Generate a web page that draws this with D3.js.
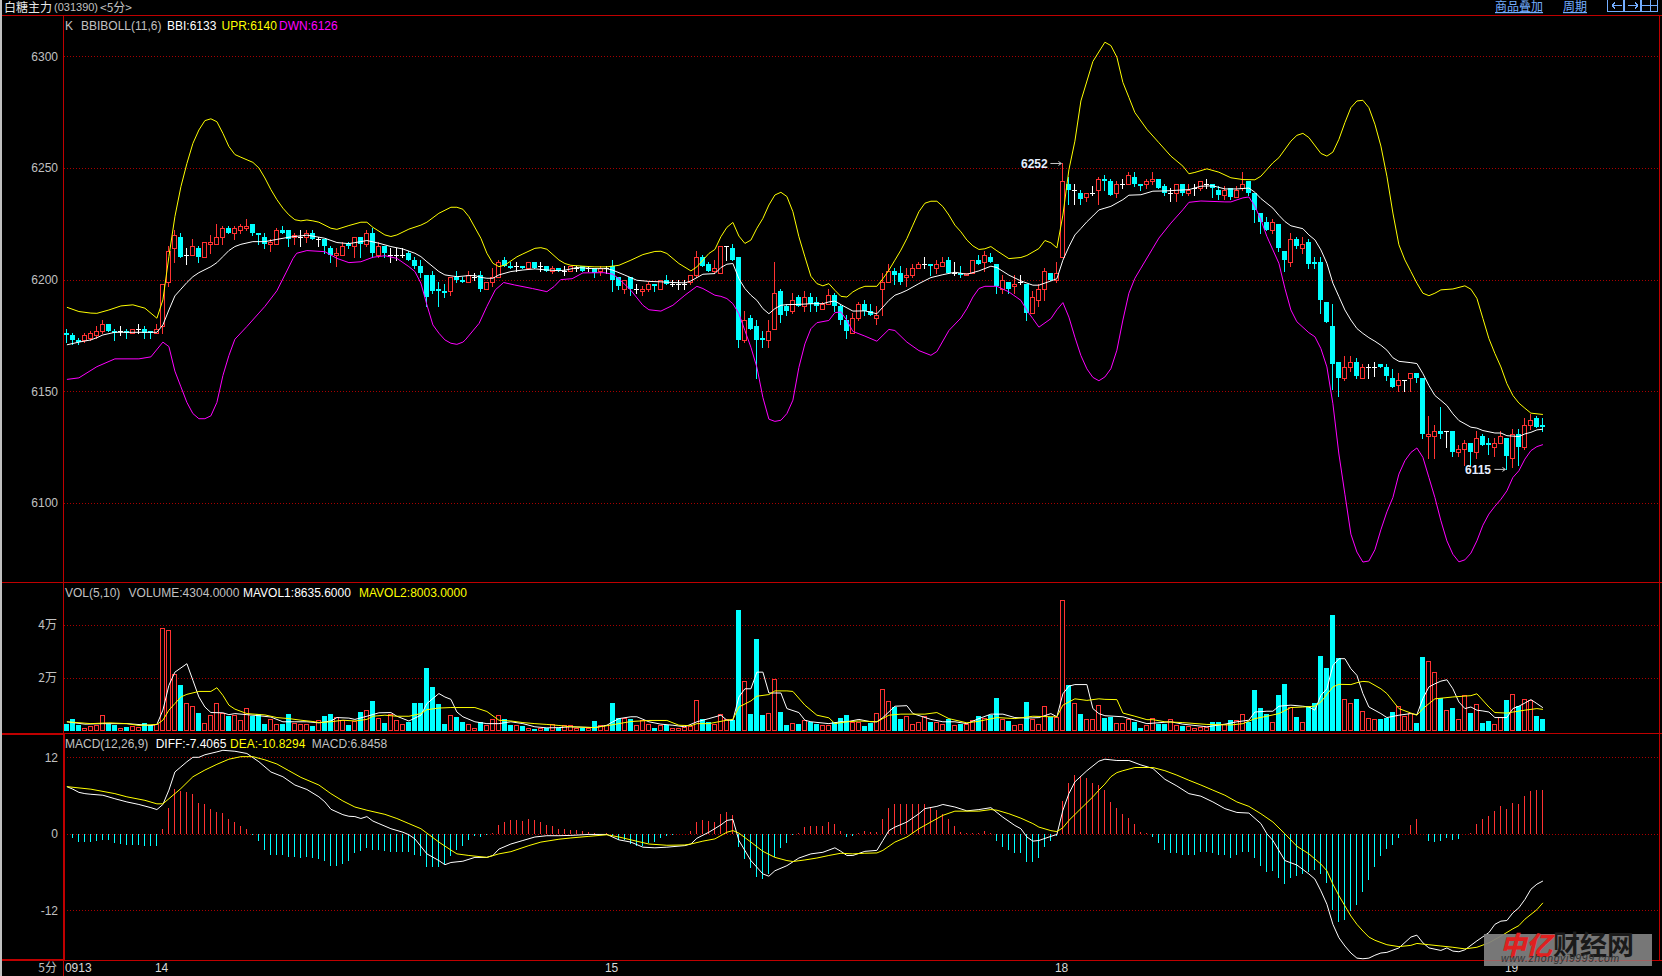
<!DOCTYPE html>
<html><head><meta charset="utf-8">
<script src="https://cdnjs.cloudflare.com/ajax/libs/d3/7.8.5/d3.min.js"></script>
<style>html,body{margin:0;padding:0;background:#000;overflow:hidden}svg{display:block}text{font-family:"Liberation Sans",sans-serif;font-size:12px}</style>
</head><body><svg id="c" width="1662" height="976"></svg>
<script>
const open=[6176,6175,6173,6173,6174,6175,6177,6180,6177,6177,
6177,6176,6178,6178,6177,6176,6179,6199,6214,6219,
6211,6211,6214,6210,6216,6216,6219,6223,6221,6222,
6223,6225,6221,6219,6216,6216,6222,6222,6219,6219,
6219,6221,6218,6218,6214,6211,6211,6216,6215,6219,
6216,6221,6211,6215,6211,6211,6211,6212,6209,6206,
6202,6202,6196,6195,6195,6201,6200,6199,6201,6202,
6196,6199,6201,6209,6206,6206,6206,6205,6208,6206,
6206,6204,6205,6204,6204,6205,6206,6205,6205,6204,
6205,6206,6201,6196,6201,6196,6195,6196,6198,6196,
6200,6198,6198,6198,6199,6202,6210,6207,6204,6203,
6215,6214,6210,6173,6183,6179,6174,6173,6178,6195,
6188,6186,6192,6188,6192,6190,6187,6189,6193,6188,
6182,6176,6183,6189,6186,6183,6196,6199,6204,6203,
6201,6202,6205,6207,6207,6205,6206,6209,6203,6203,
6202,6203,6209,6208,6210,6207,6196,6199,6197,6199,
6198,6185,6191,6196,6203,6200,6210,6243,6240,6239,
6237,6239,6240,6245,6244,6239,6243,6243,6246,6243,
6243,6244,6245,6242,6239,6239,6243,6239,6241,6241,
6243,6243,6240,6238,6241,6237,6241,6244,6239,6230,
6226,6222,6225,6213,6208,6218,6214,6217,6208,6208,
6190,6179,6163,6156,6161,6163,6156,6161,6161,6162,
6161,6156,6153,6155,6156,6158,6156,6130,6130,6132,
6132,6132,6123,6124,6127,6123,6130,6127,6125,6127,
6129,6120,6131,6125,6135,6138,6135];
const close=[6175,6173,6172,6175,6176,6177,6180,6177,6176,6177,
6176,6178,6178,6176,6176,6178,6198,6213,6220,6210,
6211,6215,6210,6217,6217,6219,6223,6221,6223,6224,
6224,6221,6220,6216,6217,6222,6221,6218,6220,6219,
6221,6218,6218,6215,6211,6212,6215,6215,6219,6216,
6221,6212,6215,6212,6211,6211,6211,6209,6206,6203,
6192,6195,6195,6194,6201,6200,6199,6202,6201,6196,
6199,6201,6208,6206,6205,6206,6205,6208,6205,6206,
6204,6205,6204,6204,6206,6205,6204,6205,6203,6205,
6205,6200,6197,6200,6196,6196,6196,6198,6197,6200,
6198,6198,6198,6198,6202,6210,6206,6204,6205,6215,
6215,6209,6173,6182,6178,6173,6173,6177,6194,6184,
6186,6191,6188,6192,6189,6188,6189,6193,6188,6182,
6177,6183,6189,6186,6184,6184,6199,6204,6202,6199,
6202,6205,6207,6207,6206,6207,6208,6203,6203,6202,
6203,6209,6207,6211,6208,6197,6200,6196,6198,6199,
6185,6192,6196,6204,6200,6203,6244,6240,6240,6236,
6239,6239,6245,6244,6238,6243,6243,6247,6243,6242,
6244,6245,6241,6239,6239,6243,6239,6240,6241,6244,
6243,6241,6238,6240,6237,6240,6243,6239,6231,6226,
6222,6226,6214,6209,6218,6215,6216,6207,6207,6191,
6181,6162,6156,6161,6163,6157,6161,6161,6161,6161,
6157,6152,6155,6155,6158,6156,6131,6131,6132,6131,
6132,6123,6124,6127,6123,6129,6126,6126,6127,6130,
6121,6131,6125,6135,6137,6134,6134];
const high=[6178,6176,6174,6176,6177,6179,6182,6180,6178,6179,
6178,6178,6180,6179,6177,6180,6198,6215,6222,6221,
6214,6218,6215,6217,6220,6225,6224,6224,6224,6225,
6227,6225,6221,6221,6218,6223,6224,6222,6221,6222,
6222,6222,6219,6218,6215,6214,6217,6217,6219,6219,
6222,6223,6217,6215,6214,6214,6214,6213,6210,6209,
6202,6204,6199,6198,6201,6204,6201,6204,6203,6204,
6199,6205,6209,6210,6208,6208,6206,6208,6208,6208,
6206,6206,6205,6206,6206,6206,6206,6206,6205,6206,
6206,6209,6201,6200,6201,6198,6197,6199,6198,6200,
6202,6200,6200,6200,6202,6213,6211,6208,6209,6215,
6215,6216,6210,6186,6184,6182,6177,6182,6208,6196,
6189,6194,6193,6195,6194,6192,6190,6196,6194,6189,
6184,6185,6190,6191,6189,6188,6203,6207,6205,6206,
6205,6207,6208,6210,6207,6209,6210,6210,6208,6206,
6203,6209,6211,6213,6212,6207,6202,6199,6202,6202,
6198,6195,6198,6205,6203,6208,6252,6246,6243,6240,
6239,6242,6246,6247,6245,6244,6245,6248,6248,6243,
6245,6248,6245,6243,6241,6243,6243,6243,6243,6244,
6245,6243,6242,6242,6241,6242,6248,6244,6239,6230,
6228,6227,6225,6213,6221,6219,6219,6218,6210,6210,
6190,6189,6163,6166,6166,6165,6162,6162,6163,6162,
6162,6160,6158,6155,6158,6158,6156,6139,6135,6143,
6132,6132,6126,6128,6127,6132,6131,6129,6129,6132,
6129,6133,6133,6138,6140,6139,6138];
const low=[6172,6171,6171,6172,6173,6174,6176,6177,6173,6175,
6174,6176,6176,6174,6174,6176,6176,6197,6208,6210,
6207,6211,6208,6210,6212,6216,6216,6221,6218,6221,
6222,6220,6216,6214,6213,6216,6221,6215,6216,6215,
6217,6218,6215,6212,6208,6206,6211,6214,6210,6210,
6215,6210,6210,6210,6208,6209,6210,6209,6205,6201,
6188,6194,6188,6192,6193,6199,6199,6199,6200,6195,
6196,6197,6201,6206,6205,6204,6205,6205,6205,6204,
6204,6203,6204,6202,6204,6204,6204,6204,6201,6202,
6203,6195,6196,6194,6193,6194,6193,6195,6195,6196,
6198,6197,6196,6196,6198,6201,6206,6204,6203,6203,
6209,6209,6170,6172,6178,6156,6170,6170,6178,6181,
6184,6185,6188,6186,6186,6186,6187,6189,6186,6180,
6174,6176,6182,6184,6184,6180,6184,6199,6198,6198,
6197,6201,6205,6205,6202,6203,6206,6203,6202,6201,
6202,6203,6207,6204,6208,6194,6194,6194,6194,6198,
6182,6185,6188,6191,6200,6199,6210,6234,6234,6234,
6235,6238,6234,6240,6238,6237,6241,6243,6242,6240,
6241,6243,6241,6238,6235,6235,6238,6238,6238,6240,
6241,6237,6236,6236,6236,6237,6240,6238,6226,6221,
6222,6221,6213,6204,6206,6214,6212,6205,6205,6185,
6181,6151,6148,6155,6159,6156,6156,6156,6157,6161,
6155,6152,6150,6150,6150,6154,6129,6120,6120,6129,
6125,6121,6121,6117,6117,6120,6126,6122,6121,6127,
6115,6116,6117,6124,6133,6134,6132];
const volume=[2.4,4.2,2,1.1,1.6,2,6,2.6,2.1,1.1,
1.3,1.8,1.4,3,2,2.6,38.9,38.1,21.4,17.1,
10.6,9.1,6.5,3,5.8,10.6,6.7,5.5,5.8,3.8,
8.7,5.5,6.4,2.4,4.2,2.4,2.5,6.4,3,2.6,
2.3,1.6,3.8,5.4,6.4,5.3,3.9,2,3.6,6.9,
7.9,11,4.9,3,6.4,3.8,2.4,3.1,10.3,10.3,
23.5,16.4,9.9,2.6,5.7,5,3.1,2.6,1.1,3.4,
2,4.2,5.7,4.2,2,1.9,1.6,.9,.5,.8,
.8,2.3,1.1,1.9,1.9,1.1,1,.8,3.5,1.9,
1.9,10.3,4.7,4.9,4.2,2,3.8,2.6,.9,1.9,
2,1,1.1,1.4,1.6,11.7,4.5,3.4,2.6,6.4,
4.5,3.9,45.8,18.9,6.2,34.5,5.8,6.8,19.6,6.9,
2,3,2.4,3.8,3.4,2.4,2,2,3.4,4.7,
5.8,3.4,3.4,1.6,2.9,6.8,15.8,11.3,8.9,4.3,
5.4,2.4,3.4,5.4,3.4,3.1,2.4,4.2,1.9,2.6,
2.4,3.8,5.4,4.9,5.8,12.2,4.3,3.6,1.9,2.4,
10.7,4.5,2.6,9.1,5.2,5.2,49.4,17.1,10.6,6.2,
4.2,4.2,9.8,4.8,5,3,3,4.3,3.3,.9,
1.9,4.8,2.6,2.6,4.5,1.9,1.6,1.6,.9,1.4,
1.3,3.1,3.1,2.6,3.9,3.8,6.4,3.3,15.2,8.4,
6.2,3.1,13.3,17.5,8.9,5,3.4,9.4,10.3,28.4,
23.5,43.9,27.3,12,10.3,11.8,7.2,4.9,4.2,4.4,
4.9,6.9,9.1,5.4,6.7,2.8,28,26.5,22.3,12.5,
7.7,8.4,4.5,13.6,6.5,10.2,2.8,3.5,2.3,5,
11.4,14,9.2,12,11.4,5.4,4.304];
const macdBars=[-.05,-.7,-1.3,-1.3,-1.3,-1.2,-.9,-1.05,-1.4,-1.6,
-1.7,-1.75,-1.75,-1.85,-1.95,-1.85,.7,4.1,6.95,6.7,
6.5,6.2,4.9,4.6,3.95,3.4,3.2,2.4,1.8,1.3,
.7,-.15,-1.15,-2.6,-3.3,-3.3,-3.3,-3.7,-3.7,-3.85,
-3.7,-3.85,-3.95,-4.3,-5,-5.1,-4.7,-4.2,-3,-2.75,
-2.2,-2.5,-2.5,-2.75,-2.9,-2.9,-2.9,-2.9,-3.25,-3.5,
-5.2,-5.25,-5.25,-4.75,-3.5,-2.6,-1.95,-1.05,-.35,-.5,
-.15,.15,1.4,1.9,2.1,2.2,2.05,2.35,2.1,1.8,
1.4,1.15,.8,.7,.6,.6,.45,.3,.1,0,
.15,-.35,-.95,-1.05,-1.6,-1.85,-1.9,-1.45,-1.35,-.7,
-.35,-.2,-.1,-.05,.5,1.9,2.1,2,1.9,3.05,
3.45,2.9,-2,-4,-5.4,-6.75,-7.15,-6.3,-3.7,-2.3,
-1.45,-.2,.1,1,1.15,1.15,1.3,1.9,1.6,.45,
-.5,-.3,.15,.45,.35,.35,2.25,4,4.6,4.6,
4.6,4.7,4.7,4.6,4.2,3.7,3.15,2.25,1.3,.35,
.1,.1,.15,.45,.15,-1.2,-2,-2.6,-3,-3.05,
-4.35,-4.35,-3.8,-2,-1.2,-.35,5.1,7.9,9.15,9,
8.7,7.9,7.6,6.85,4.95,4,3.05,2.5,1.5,.35,
.05,-.5,-1.5,-2.5,-3.05,-3.05,-3.35,-3.4,-3.4,-2.9,
-2.8,-3.05,-3.4,-3.4,-3.75,-3.4,-2.8,-2.8,-3.75,-5,
-5.95,-5.8,-6.95,-7.95,-7,-6.6,-6.25,-5.95,-5.6,-6.3,
-7.65,-12,-13.8,-13.5,-12.1,-11.15,-9.2,-7.2,-5.25,-3.5,
-2.4,-1.8,-.7,-.05,1.4,2.25,0,-1.15,-1.3,-1.15,
-.7,-.95,-.85,-.05,.15,1.6,2.25,2.85,3.5,4.3,
3.85,4.8,4.65,5.9,6.7,6.85,6.8458];
// indicator lines, [bar index, value]
const bbi=[[0,6170.8],[2,6172],[4,6173],[5,6174],[6,6175.2],[8,6176.4],[11,6176.4],[15,6176.4],[16,6179.7],[17,6186.4],[18,6192.7],[19,6195.7],[20,6198.7],[21,6201.3],[22,6203.1],[24,6205.8],[25,6207.6],[26,6210.3],[27,6213],[28,6214.8],[29,6215.8],[31,6217],[33,6217],[35,6218],[37,6219],[40,6219.9],[42,6219],[43,6218.5],[45,6216.6],[47,6216.1],[49,6217],[50,6217.5],[52,6216.3],[54,6214.8],[56,6213.7],[58,6211.8],[59,6210.3],[60,6208],[62,6203.6],[63,6202.1],[65,6201.3],[67,6201.8],[68,6201.8],[69,6201],[70,6200.6],[71,6200.6],[72,6202.1],[74,6203.6],[76,6204.3],[78,6204.8],[80,6204.3],[82,6204],[83,6204.2],[85,6205.4],[88,6204.9],[90,6204.9],[91,6204.2],[93,6202],[95,6199.7],[97,6199.2],[99,6199],[101,6198.7],[103,6198.5],[104,6199.4],[106,6202.4],[108,6202.7],[109,6205.4],[110,6206.9],[111,6207.2],[112,6200.4],[113,6196],[114,6193],[115,6190.7],[116,6187],[117,6184.7],[118,6187],[119,6188.5],[120,6188.8],[122,6188.9],[124,6189.2],[126,6189.2],[127,6190],[128,6190.4],[129,6188.8],[131,6185.9],[133,6186],[135,6184.7],[136,6187.7],[137,6190.7],[138,6193],[139,6194],[140,6195.2],[142,6198.2],[144,6200.9],[146,6202.2],[148,6203.3],[150,6202.4],[152,6203.9],[154,6206],[155,6205.4],[157,6202],[159,6199.4],[161,6197.5],[162,6197.5],[164,6199.4],[165,6200.4],[166,6208.7],[167,6214.7],[168,6220],[169,6222.9],[170,6225.9],[171,6228.5],[172,6231.2],[173,6232],[174,6232.8],[176,6235.8],[177,6237.8],[179,6238],[181,6239.6],[183,6239.7],[185,6240],[187,6240.3],[189,6241.8],[191,6242],[193,6240.6],[195,6240.6],[197,6241],[198,6239.1],[199,6236.3],[201,6232],[202,6228.8],[203,6226],[204,6224.1],[206,6222.8],[207,6220],[208,6217.8],[209,6213.3],[210,6207.3],[211,6198.4],[212,6192.4],[213,6186.4],[214,6181.9],[215,6178.1],[216,6175.9],[217,6174],[218,6172.4],[219,6170.6],[220,6168.4],[221,6165],[222,6163.4],[224,6162.8],[225,6162.4],[226,6157.9],[227,6152.6],[228,6148.1],[229,6145.9],[230,6143.6],[231,6139.9],[232,6136.9],[234,6133.9],[235,6133.5],[236,6132.4],[238,6131.3],[239,6131.3],[240,6130.1],[242,6129.7],[243,6130.9],[244,6131.6],[245,6132.7],[246,6133]];
const upr=[[0,6187.6],[2,6185.7],[4,6185],[5,6184.9],[7,6186.4],[9,6188.2],[11,6188.7],[13,6187.2],[15,6182.7],[16,6190.9],[17,6210.3],[18,6228.2],[19,6241.6],[20,6252],[21,6261],[22,6267],[23,6271.2],[24,6272],[25,6270.7],[26,6265.5],[27,6259.6],[28,6256],[29,6254.8],[31,6252.5],[32,6250],[33,6245.5],[34,6240.3],[35,6235.8],[36,6232],[37,6229],[38,6226.8],[39,6226.3],[40,6226.7],[41,6226.3],[42,6225.7],[44,6223],[45,6222.5],[47,6224.2],[49,6225.7],[50,6225.7],[51,6223.4],[53,6220],[54,6219.3],[55,6220],[57,6222.6],[59,6224.4],[60,6225.7],[62,6229.7],[64,6232.4],[65,6232.4],[66,6231.5],[67,6228.2],[69,6218.5],[70,6211.8],[71,6207.3],[72,6205.8],[73,6206.5],[75,6210.2],[76,6211.5],[78,6214],[79,6214.3],[80,6213.6],[82,6208.8],[83,6207.2],[84,6206.4],[86,6206],[88,6205.7],[90,6205.7],[92,6206.4],[94,6208.7],[96,6211.2],[98,6212.6],[99,6212.7],[100,6211.7],[102,6207.2],[104,6203.9],[105,6205.7],[107,6211.7],[108,6213.5],[109,6219.2],[110,6223.4],[111,6225.6],[112,6219.5],[113,6216.2],[114,6217.7],[115,6223],[116,6227.4],[117,6233.4],[118,6237.9],[119,6239.1],[120,6237.2],[121,6230.4],[122,6219.2],[123,6210.2],[124,6201.5],[125,6198.2],[126,6197.2],[127,6198.2],[128,6195.2],[129,6192.5],[130,6192.2],[131,6194.5],[132,6196],[133,6197],[135,6197],[136,6200.4],[137,6204.2],[138,6208.7],[139,6213.2],[140,6218.4],[141,6224.4],[142,6230.4],[143,6234.2],[144,6235.1],[145,6235.1],[146,6232.7],[147,6228.9],[148,6224.4],[149,6221.4],[150,6217.7],[151,6215.1],[152,6213.5],[153,6213.8],[154,6214.8],[155,6212.9],[157,6209.4],[159,6209.9],[160,6210.8],[162,6213.9],[163,6217.5],[164,6216.5],[165,6214.2],[166,6228.9],[167,6249.2],[168,6262],[169,6280],[171,6297.7],[173,6306.3],[174,6304.8],[175,6299.6],[176,6288.3],[177,6281.6],[178,6274.8],[180,6267.3],[182,6261.3],[184,6255.3],[186,6250.8],[187,6247.4],[188,6248],[190,6249.6],[192,6248.1],[194,6245.6],[196,6244.8],[198,6244.7],[199,6246.3],[201,6252.3],[202,6254.6],[204,6262],[205,6264.6],[206,6265.5],[207,6263.6],[209,6256.5],[210,6255.3],[211,6257.1],[212,6262.8],[213,6270.3],[214,6277],[215,6280],[216,6280.3],[217,6277],[218,6269.6],[219,6259.8],[220,6246.3],[221,6229.8],[222,6215.6],[223,6208.8],[224,6203.6],[225,6198.4],[226,6193.9],[227,6192.8],[228,6193.9],[229,6195.4],[231,6195.8],[233,6197.2],[234,6195.7],[235,6191.6],[236,6182.6],[237,6173.6],[238,6166.9],[239,6160.9],[240,6153.4],[241,6148.1],[242,6144.7],[243,6142.4],[244,6140.2],[246,6139.6]];
const dwn=[[0,6155.3],[2,6156],[5,6161],[8,6164.5],[12,6164.5],[14,6165.4],[16,6172],[17,6170],[18,6159],[19,6152],[20,6145],[21,6140],[22,6137.7],[23,6137.7],[24,6139],[25,6145],[26,6157],[27,6166],[28,6173.3],[30,6179],[32,6185],[33,6188],[35,6195],[36.5,6203],[37.7,6209.5],[38.3,6211.8],[40,6213],[43,6212.5],[45,6209.5],[47,6207.6],[49,6208],[51,6210],[53,6210.7],[55,6209.5],[57,6205.8],[58,6203.6],[59,6198.4],[60,6188.7],[61,6179.7],[62,6176],[63,6173],[64,6171.5],[65,6171],[66,6172],[66.4,6173],[68.7,6180.4],[70,6188],[71.4,6195.4],[72.8,6198.7],[74.6,6197.6],[77.6,6196],[80,6194.6],[81.2,6196.9],[82.3,6200],[84.2,6200.4],[86,6203],[89.5,6203.1],[91,6202.4],[92,6200.4],[94,6195.2],[96,6188.5],[97,6186.5],[99,6185.9],[101,6188.5],[103,6193],[105,6197],[106,6196],[108,6193],[109,6192.5],[110,6191.5],[111,6189.2],[112,6184.7],[113,6177.2],[114,6169.7],[115,6160.7],[116,6147.2],[117,6137.5],[118,6136.5],[119,6137],[120,6140],[121,6146],[122,6160.7],[123,6171.2],[124,6178],[125,6180.7],[127,6181.7],[128,6185.2],[129,6185.5],[130,6181.7],[131,6176.8],[133,6174.7],[135,6172.4],[137,6177.7],[138,6177.2],[140,6172],[142,6168.2],[144,6166.1],[145,6167.8],[147,6177.2],[149,6182.8],[150,6187],[151,6192.2],[152,6196],[153,6197],[155,6197],[157,6194.5],[159,6190.7],[160,6186.2],[161,6182.5],[162,6178.7],[164,6182.5],[165,6186.5],[166,6189.7],[167,6183.2],[168,6174.2],[169,6166],[170,6160],[171,6156.2],[172,6154.7],[173,6156.4],[174,6160.1],[175,6168.4],[176,6181.9],[177,6193.9],[178,6200.6],[179,6205.1],[181,6214.1],[182,6218.6],[184,6225.3],[186,6231.3],[187,6234.6],[189,6235.2],[193,6234.8],[194,6234.8],[196,6236.6],[197,6237],[198,6232.8],[199,6226.8],[200,6219.3],[201,6213.3],[202,6207.3],[203,6196.1],[204,6186.4],[205,6181.1],[207,6176.2],[208,6174.4],[209,6169.1],[210,6160.9],[211,6144.4],[212,6121.9],[213,6103.9],[214,6086],[215,6078],[216,6073.5],[217,6074],[218,6079],[219,6088],[220,6096],[221,6102.4],[222,6112.9],[223,6118.9],[224,6122.6],[225,6124.6],[226,6120.4],[227,6111.4],[228,6102.4],[229,6092],[230,6083],[231,6077],[232,6073.6],[233,6074.5],[234,6077.5],[235,6083],[236,6090],[237,6095],[238,6098.5],[239,6101.6],[240,6105.4],[241,6111.4],[242,6114.4],[243,6119.6],[244,6123.4],[245,6125.2],[246,6126.1]];
const mavol1=[[0,3.3],[3,2.4],[6,2.6],[10,2.6],[14,1.9],[15,2.3],[16,7.7],[17,17.1],[18,22.1],[20,25.3],[21,19],[22,12.7],[23,8.9],[24,6.8],[26,6.7],[27,6],[28,6.4],[30,6],[32,5.6],[34,5.1],[36,3.3],[38,3.3],[40,3.3],[42,2.9],[44,3.6],[45,4.9],[47,4.7],[48,4.2],[50,5.4],[52,6.7],[54,6.8],[55,5.4],[57,3.6],[59,5.8],[60,10.2],[62,14],[63,12.7],[64,11.8],[65,7],[66,5.2],[68,3.3],[70,2.6],[72,2.6],[74,3.3],[76,2.6],[78,1.4],[80,1],[82,1.1],[84,1.4],[88,1.1],[90,2],[91,3.3],[92,4.5],[94,5.2],[95,5.2],[97,3.3],[99,2.4],[101,2],[103,1.4],[105,3.3],[107,4.5],[109,5.8],[110,3.9],[111,3.9],[112,12.7],[113,15.8],[114,15.8],[115,22.1],[116,22.1],[117,14.2],[118,14.2],[119,14.2],[120,8.3],[122,6.8],[123,3.9],[124,3.3],[127,2.6],[129,3.3],[130,3.3],[132,4.2],[134,3.3],[135,3.3],[136,4.9],[138,9.2],[140,9.4],[141,6.4],[144,4.2],[146,3.3],[148,3.3],[150,2.6],[152,4.5],[154,6.2],[156,6.2],[158,4.9],[160,4.7],[162,4.9],[164,6.4],[165,5.2],[166,13.9],[167,16.8],[168,17.4],[170,17.4],[171,8.3],[172,6.4],[173,5.6],[176,5.2],[178,3.9],[180,2.6],[184,3.3],[186,2.4],[190,1.4],[193,2.4],[195,3.3],[197,3.9],[198,7],[200,7.3],[201,7.3],[202,9.2],[204,9.6],[206,9.2],[207,8.9],[208,7.7],[209,13.3],[210,15.8],[211,24.6],[212,27.2],[213,27.2],[214,23.4],[215,20.9],[216,14],[217,8.9],[219,6.4],[220,4.9],[222,5.8],[224,6.4],[225,6],[226,12.1],[227,16.5],[228,17.7],[229,18.7],[230,19.2],[231,15.8],[232,10.8],[233,8.3],[234,8.9],[235,7.7],[236,7.4],[237,7],[238,4.9],[240,4.9],[241,8.3],[242,9.2],[243,10.4],[244,11.7],[245,10.2],[246,8.6356]];
const mavol2=[[0,3.3],[4,2.6],[7,2.9],[10,2.6],[12,1.9],[15,2.3],[16,3.9],[17,7.7],[18,10.2],[19,12.7],[20,13.7],[22,14.8],[24,14.8],[25,16.2],[26,13.3],[27,9.6],[28,8.1],[30,6.4],[33,5.9],[35,4.9],[37,4.5],[39,3.9],[41,3.4],[42,3],[44,3.3],[46,3.9],[48,3.6],[50,4.2],[51,5.4],[53,5.8],[55,5.4],[57,5.4],[59,6.4],[60,7.9],[62,8.5],[64,8.7],[68,8.7],[70,7.2],[72,3.9],[74,3.6],[76,3],[78,2.6],[80,2.3],[82,1.9],[84,1.4],[88,1.1],[90,1.8],[92,2.6],[94,3.4],[97,3.8],[100,3.8],[102,2],[104,1.8],[105,2.6],[107,2.6],[110,3.9],[111,4.2],[112,8.9],[114,11.2],[115,13],[117,13.6],[118,15],[120,15],[121,14.8],[123,9.6],[125,5.8],[127,4.8],[128,2.6],[130,3.3],[132,3.6],[135,3.3],[137,5.8],[139,6.2],[143,6.2],[145,6.8],[147,4.5],[150,2.9],[152,3.5],[155,4.9],[158,4.5],[161,5.4],[164,5.2],[165,5.2],[166,9.6],[168,12],[170,11.4],[172,12],[173,11.8],[175,11.7],[176,6.6],[178,5.4],[180,4.1],[181,4.1],[183,3.3],[186,3],[190,2.3],[194,2.1],[196,2.6],[198,4.5],[200,5.4],[202,6.4],[204,8.7],[206,8.9],[208,9.2],[209,10.8],[211,16.5],[212,17.5],[214,17.4],[215,18.1],[216,18.6],[217,18.4],[219,15.8],[220,14],[222,8.3],[224,6.6],[225,5.8],[226,8.3],[228,12],[231,12.7],[234,13.2],[235,13.9],[237,8.9],[238,6.8],[240,6.6],[241,7],[243,7.7],[245,8.3],[246,8.003]];
const diff=[[0,7.4],[1,7],[2,6.5],[3,6.3],[4,6.2],[6,6.05],[8,5.5],[10,5],[12,4.6],[14,4.1],[15,3.8],[16,4.6],[17,6.85],[18,9.7],[19,10.5],[20,11.3],[21,12],[22,12],[23,12.4],[25,12.85],[26,13.1],[28,12.95],[30,12.6],[32,11.3],[34,9.7],[36,8.95],[38,7.65],[40,6.95],[42,5.8],[43,5],[44,3.85],[46,3],[47,2.75],[48,2.7],[49,2.4],[50,2.7],[51,2],[52,1.6],[54,.8],[56,.25],[57,-.15],[58,-.8],[60,-3.15],[62,-4.2],[63,-4.85],[64,-4.5],[66,-4.3],[68,-3.7],[70,-3.7],[71,-3.4],[72,-2.4],[74,-1.6],[76,-1.05],[78,-.5],[80,-.3],[82,-.3],[84,-.25],[87,-.1],[90,-.1],[92,-.95],[94,-1.3],[96,-2.1],[98,-2.2],[100,-2.1],[103,-1.85],[104,-1.6],[105,-.7],[107,.25],[109,1.4],[110,2.1],[111,2.25],[112,-1.05],[114,-4.2],[116,-6.3],[117,-6.65],[118,-5.8],[120,-5],[122,-3.8],[124,-3.15],[126,-2.9],[128,-2.2],[129,-2.75],[130,-3.4],[131,-3.4],[133,-2.75],[135,-2.6],[136,-1.05],[137,.5],[138,1.05],[140,1.85],[142,3.15],[143,3.95],[145,4.3],[146,4.6],[148,4.2],[150,3.6],[152,3.8],[154,4.1],[156,2.6],[158,1.3],[159,.8],[160,-.5],[161,-1.15],[162,-1.05],[164,-.4],[165,-.1],[166,3.7],[167,6.3],[168,8.15],[170,9.9],[172,11.4],[173,11.7],[175,11.5],[177,11.5],[179,10.8],[181,10.25],[183,8.55],[185,7.5],[187,6.3],[189,5.9],[191,5],[193,3.95],[195,3.35],[197,3.25],[199,1.6],[200,0],[201,-1.05],[203,-4.2],[205,-4.9],[207,-6.3],[208,-7.1],[209,-8.95],[210,-11.05],[211,-14.2],[212,-16.3],[213,-17.6],[214,-18.7],[215,-19.5],[216,-19.6],[217,-19.5],[218,-19.05],[219,-18.7],[220,-18.6],[222,-17.9],[224,-16.2],[225,-15.9],[226,-17.1],[227,-17.9],[229,-18.3],[230,-17.9],[231,-18.4],[232,-18.5],[233,-18.2],[235,-16.8],[237,-15.5],[238,-14.2],[239,-13.7],[240,-13.6],[241,-12.4],[242,-11.6],[243,-10.3],[244,-8.7],[245,-7.9],[246,-7.4065]];
const dea=[[0,7.4],[4,7],[8,6.3],[10,5.8],[13,5.25],[15,4.7],[16,4.7],[17,5.5],[19,7.1],[21,8.95],[23,10],[25,10.9],[27,11.7],[29,12.1],[31,12.1],[33,11.6],[35,10.95],[37,9.9],[39,8.85],[42,7.65],[44,6.3],[46,5.15],[48,4.2],[50,3.7],[53,3.05],[55,2.4],[57,1.6],[59,.8],[60,.1],[62,-1.3],[64,-2.55],[65,-3.15],[67,-3.4],[70,-3.7],[72,-3.15],[74,-2.8],[77,-1.85],[79,-1.3],[82,-.85],[84,-.65],[87,-.4],[90,-.15],[92,-.5],[94,-.95],[97,-1.6],[100,-1.8],[103,-1.75],[104,-1.6],[106,-1.15],[108,-.8],[110,.25],[111,.5],[112,.1],[114,-1.3],[116,-2.75],[118,-3.7],[120,-4.2],[121,-4.35],[123,-4.1],[125,-3.8],[127,-3.4],[129,-3.05],[131,-3.15],[133,-3.05],[135,-3],[136,-2.6],[138,-1.3],[140,-.5],[142,.8],[144,1.85],[146,2.9],[148,3.55],[152,3.55],[154,3.8],[155,3.7],[157,3.15],[159,2.45],[161,1.6],[162,1.05],[164,.5],[165,.35],[166,.95],[167,2.1],[169,3.95],[171,5.8],[172,6.85],[173,7.8],[174,8.95],[175,9.6],[176,9.9],[178,10.4],[181,10.4],[183,9.9],[185,9.2],[187,8.4],[189,7.65],[191,6.85],[193,6.05],[195,5],[197,4.3],[199,3.15],[201,1.85],[203,0],[205,-1.95],[207,-3.15],[209,-4.75],[210,-5.8],[211,-7.9],[212,-9.7],[213,-11.3],[214,-12.9],[215,-14.2],[216,-15.25],[217,-16.2],[218,-16.7],[220,-17.4],[222,-17.7],[224,-17.5],[225,-17.2],[227,-17.4],[229,-17.6],[231,-17.8],[233,-18.05],[235,-17.8],[237,-17.1],[239,-16.05],[241,-14.9],[242,-14.4],[243,-13.4],[245,-11.9],[246,-10.8294]];
const priceTicks=[6300,6250,6200,6150,6100];
const volTicks=[40,20];
const volTickLabels=["4万","2万"];
const macdTicks=[12,0,-12];
const dateTicks=[[0,"0913"],[15,"14"],[90,"15"],[165,"18"],[240,"19"]];

const RED="#ff3232",CYAN="#00ffff",LINE="#bf0000",GRID="#a80000",GRAY="#c0c0c0",YEL="#ffff00",MAG="#ff00ff";
const svg=d3.select("#c");
const x=d3.scaleLinear().domain([0,246]).range([66.4,1542.4]);
const yP=d3.scaleLinear().domain([6100,6300]).range([502.9,56.3]);
const yV=d3.scaleLinear().domain([0,40]).range([730.5,624.9]);
const yM=d3.scaleLinear().domain([-12,12]).range([910.3,757.3]);
const idx=d3.range(open.length);
const snap=v=>Math.round(v)+.5;

svg.append("rect").attr("width",1662).attr("height",976).attr("fill","#000");
svg.append("rect").attr("width",2).attr("height",976).attr("fill",GRAY);

// grid
const grid=svg.append("g").attr("stroke",GRID).attr("stroke-dasharray","1 2").attr("shape-rendering","crispEdges");
const hline=(y)=>grid.append("line").attr("x1",64).attr("x2",1658).attr("y1",snap(y)).attr("y2",snap(y));
priceTicks.forEach(t=>hline(yP(t)));
volTicks.forEach(t=>hline(yV(t)));
macdTicks.forEach(t=>hline(yM(t)));

// frame
const frame=svg.append("g").attr("stroke",LINE).attr("shape-rendering","crispEdges");
[[2,1662,15.5,15.5,1],[2,1662,582.5,582.5,1],[2,64,733.5,733.5,2],[64,1662,733.5,733.5,1],[2,64,960,960,2],[64,1662,960.5,960.5,1],[63.5,63.5,15,976,1],[63.5,63.5,733,960,2],[1659.5,1659.5,15,961,1]]
 .forEach(l=>frame.append("line").attr("x1",l[0]).attr("x2",l[1]).attr("y1",l[2]).attr("y2",l[3]).attr("stroke-width",l[4]));

// candles
const isUp=i=>close[i]>open[i], isDoji=i=>close[i]===open[i];
const candle=svg.append("g").attr("shape-rendering","crispEdges");
idx.forEach(i=>{
  const cx=Math.round(x(i)),col=isDoji(i)?"#fff":isUp(i)?RED:CYAN;
  candle.append("line").attr("x1",cx+.5).attr("x2",cx+.5).attr("y1",Math.round(yP(high[i]))).attr("y2",Math.round(yP(low[i]))+1).attr("stroke",col);
  const t=Math.round(yP(Math.max(open[i],close[i]))),b=Math.round(yP(Math.min(open[i],close[i])));
  if(isDoji(i)) candle.append("line").attr("x1",cx-2).attr("x2",cx+3).attr("y1",t+.5).attr("y2",t+.5).attr("stroke",col);
  else if(isUp(i)) candle.append("rect").attr("x",cx-1.5).attr("y",t+.5).attr("width",4).attr("height",b-t).attr("fill","#000").attr("stroke",RED);
  else candle.append("rect").attr("x",cx-2).attr("y",t).attr("width",5).attr("height",Math.max(1,b-t)).attr("fill",CYAN);
});

// volume bars
const vols=svg.append("g").attr("shape-rendering","crispEdges");
idx.forEach(i=>{
  const cx=Math.round(x(i)),t=Math.round(yV(volume[i])),b=Math.round(yV(0));
  if(close[i]>=open[i]) vols.append("rect").attr("x",cx-1.5).attr("y",t+.5).attr("width",4).attr("height",Math.max(0,b-t-1)).attr("fill","#000").attr("stroke",RED);
  else vols.append("rect").attr("x",cx-2).attr("y",t).attr("width",5).attr("height",b-t).attr("fill",CYAN);
});

// macd bars
const mb=svg.append("g").attr("shape-rendering","crispEdges");
idx.forEach(i=>{
  const cx=Math.round(x(i))+.5;
  mb.append("line").attr("x1",cx).attr("x2",cx).attr("y1",yM(0)).attr("y2",yM(macdBars[i])).attr("stroke",macdBars[i]>=0?RED:CYAN);
});

// indicator lines
const draw=(pts,y,col)=>svg.append("path").attr("d",d3.line().x(d=>x(d[0])+.5).y(d=>y(d[1]))(pts)).attr("fill","none").attr("stroke",col).attr("stroke-width",1);
draw(upr,yP,YEL);draw(dwn,yP,MAG);draw(bbi,yP,"#fff");
draw(mavol1,yV,"#fff");draw(mavol2,yV,YEL);
draw(diff,yM,"#fff");draw(dea,yM,YEL);

// text helper
const T=(s,px,py,col,anchor,extra)=>{const t=svg.append("text").attr("x",px).attr("y",py).attr("fill",col).attr("text-anchor",anchor||"start").text(s);if(extra)extra(t);return t;};
const AX=t=>t.attr("font-weight","normal");
priceTicks.forEach(t=>T(t,58,yP(t)+4.5,GRAY,"end"));
volTicks.forEach((t,k)=>T(volTickLabels[k],57,yV(t)+4.5,GRAY,"end",s=>s.style("font-family","'Noto Sans CJK SC','Liberation Sans'")));
macdTicks.forEach(t=>T(t,58,yM(t)+4.5,GRAY,"end"));
T("5分",57,972,GRAY,"end",s=>s.style("font-family","'Noto Sans CJK SC'"));
dateTicks.forEach(d=>T(d[1],x(d[0])-1.5,972,"#d8d8d8"));

// headers
T("K",65,30,GRAY);T("BBIBOLL(11,6)",81,30,GRAY);T("BBI:6133",167,30,"#fff");T("UPR:6140",221.5,30,YEL);T("DWN:6126",279,30,MAG);
T("VOL(5,10)",65,597,GRAY);T("VOLUME:4304.0000",128.6,597,GRAY);T("MAVOL1:8635.6000",243,597,"#fff");T("MAVOL2:8003.0000",359,597,YEL);
T("MACD(12,26,9)",65,748,GRAY);T("DIFF:-7.4065",155.7,748,"#fff");T("DEA:-10.8294",230,748,YEL);T("MACD:6.8458",311.8,748,GRAY);

// title
T("白糖主力",4,11.5,"#e8e8e8","start",s=>s.style("font-family","'Noto Sans CJK SC'"));
T("(031390)",54,11,GRAY,"start",s=>s.style("font-size","11px"));
T("<5分>",100,11.5,GRAY,"start",s=>s.style("font-family","'Noto Sans CJK SC'"));
const BLUE="#74aeff";
T("商品叠加",1495,11,BLUE,"start",s=>s.style("font-family","'Noto Sans CJK SC'").style("text-decoration","underline"));
T("周期",1563,11,BLUE,"start",s=>s.style("font-family","'Noto Sans CJK SC'").style("text-decoration","underline"));
const btn=svg.append("g").attr("fill","none").attr("stroke",BLUE).attr("shape-rendering","crispEdges");
[[1607.5,"M1612 5.5h10M1612 5.5l3-3M1612 5.5l3 3"],[1624.5,"M1628 5.5h10M1638 5.5l-3-3M1638 5.5l-3 3"],[1641.5,"M1642 5.5h15M1650 0v11"]].forEach(b=>{
  btn.append("rect").attr("x",b[0]).attr("y",-1).attr("width",16).attr("height",12.5);
  btn.append("path").attr("d",b[1]);
});

// extreme labels
const mark=(i,val,tx)=>{
  const y=yP(val);
  T(val,tx,y+4.5,"#e6eeff","start",s=>s.attr("font-weight","bold"));
  const x1=x(i)-1;
  svg.append("path").attr("d",`M${x1-11},${y}H${x1}M${x1-3},${y-2}L${x1},${y}L${x1-3},${y+2}`).attr("fill","none").attr("stroke","#c8c8c8");
};
mark(166,6252,1021);mark(240,6115,1465);

// watermark
svg.append("rect").attr("x",1484).attr("y",934).attr("width",168).attr("height",32).attr("fill","#808080").attr("fill-opacity",.93);
svg.append("line").attr("x1",1484).attr("x2",1652).attr("y1",960.5).attr("y2",960.5).attr("stroke","#a06060");
T("中亿",1500,955,"#e02020","start",s=>s.style("font-family","'Noto Sans CJK SC'").style("font-size","26px").style("font-weight","900").style("font-style","italic"));
T("财经网",1553,955,"#1a1a1a","start",s=>s.style("font-family","'Noto Sans CJK SC'").style("font-size","27px").style("font-weight","700"));
T("www.zhongyi9999.com",1501,962,"#333","start",s=>s.style("font-size","10.5px").style("font-style","italic").style("letter-spacing","0.6px"));
</script></body></html>
